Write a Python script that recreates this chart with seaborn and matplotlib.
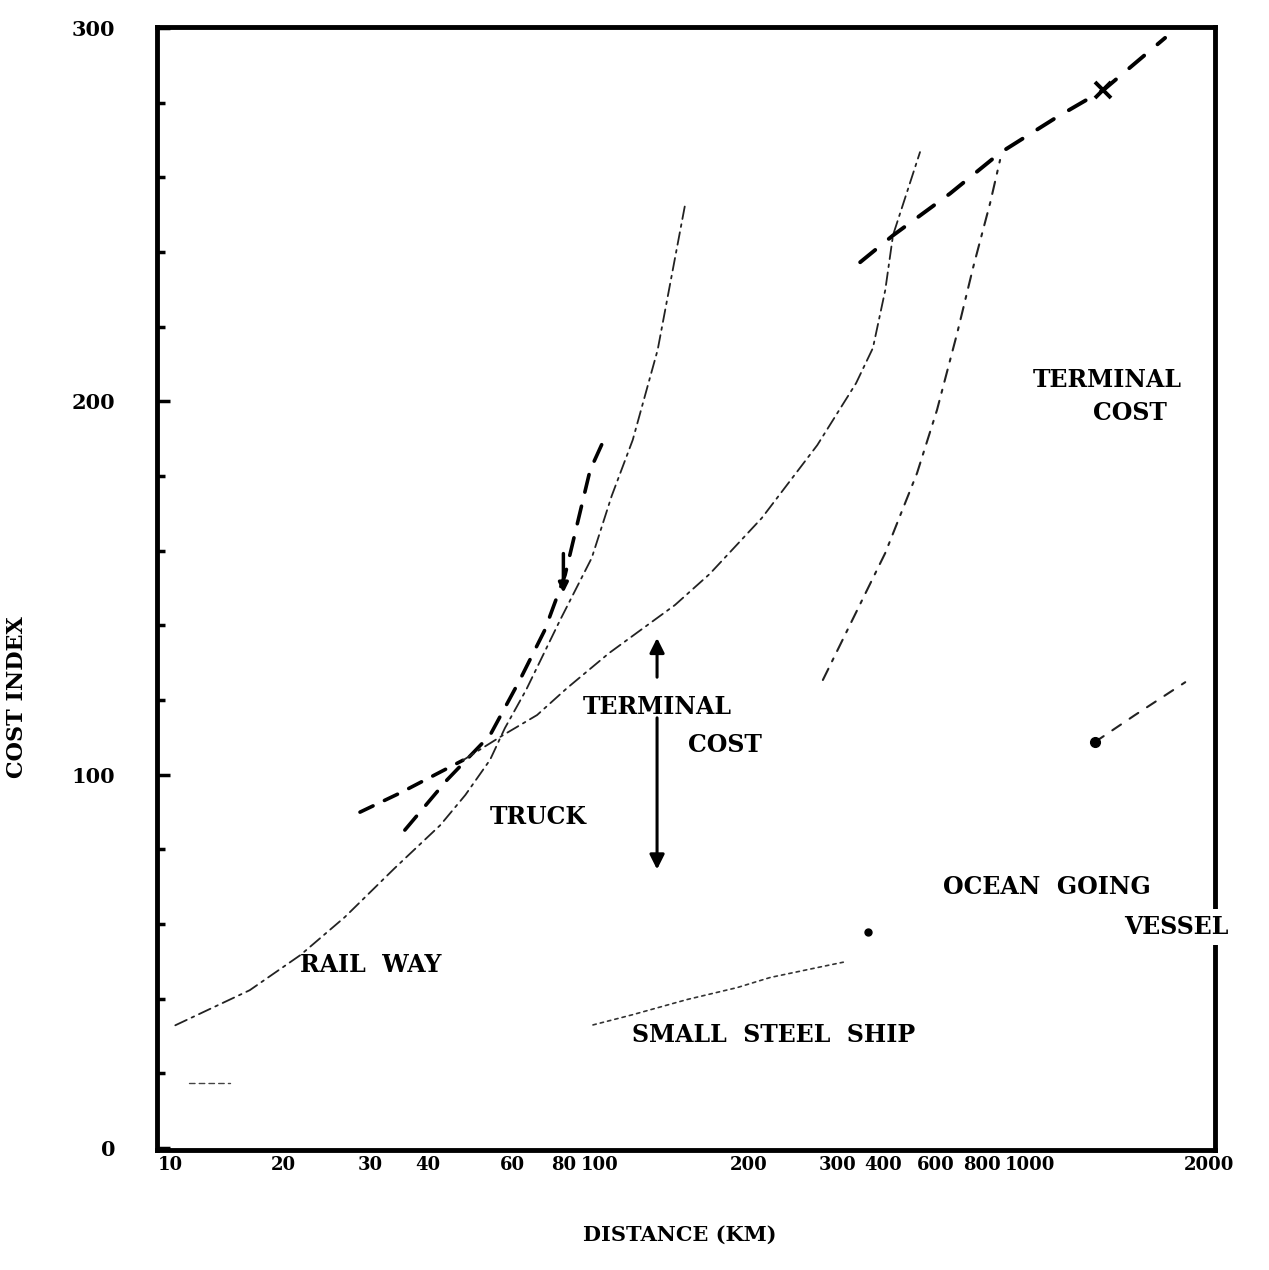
import numpy as np
import pandas as pd
import matplotlib
matplotlib.use("Agg")
import matplotlib.pyplot as plt
import matplotlib.transforms as mtrans
import seaborn as sns

# ---------------- data ----------------
rail_x = [10.5, 15.5, 20.2, 25.5, 33.1, 42.0, 47.9, 54.5, 58.9, 65.8, 78.6, 92.8, 103, 115, 131, 151]
rail_y = [32.9, 42.3, 51.7, 61.9, 75.0, 86.5, 94.6, 104.0, 112.5, 122.7, 141.4, 158.1, 174.7, 189.7, 213.8, 252.3]

truck_x = [34.9, 43.5, 54.5, 63.7, 72.6, 80.7, 92.0, 100]
truck_y = [85.2, 98.6, 110.6, 125.4, 138.8, 153.5, 181.6, 191.0]

mid_heavy_x = [27.6, 34.0, 47.3]
mid_heavy_y = [90.0, 95.1, 103.9]
mid_x = [47.3, 58.3, 69.7, 81.5, 101.6, 143.5, 172, 226, 302, 370, 404, 431, 449, 517]
mid_y = [103.9, 110.6, 116.0, 123.2, 132.6, 145.5, 153.8, 168.8, 188.3, 204.9, 214.3, 229.8, 244.6, 266.8]

right_x = [311, 431, 509, 565, 628, 683, 746, 786]
right_y = [125.4, 159.4, 180.8, 197.7, 218.3, 236.0, 253.1, 264.7]

envelope_x = [378, 449, 605, 786, 1059, 1349, 1864]
envelope_y = [237.3, 244.5, 255.7, 266.6, 276.2, 283.4, 297.4]
x_mark = (1349, 283.4)

ship_x = [93.4, 114.6, 152.8, 198.6, 236, 306, 346]
ship_y = [33.0, 35.7, 39.8, 43.0, 45.7, 48.5, 49.8]
ship_dot = (394, 57.9)

ocean_x = [1292, 1592, 2071]
ocean_y = [108.8, 116.0, 124.8]

stub_x = [11.3, 14.0]
stub_y = [17.4, 17.4]

x_ticks = [10, 20, 30, 40, 60, 80, 100, 200, 300, 400, 600, 800, 1000, 2000]
x_ticklabels = ["10", "20", "30", "40", "60", "80", "100", "200", "300", "400", "600", "800", "1000", "2000"]
y_ticks = [0, 100, 200, 300]

# hand-lettered label nudges (pixels), to match the original lettering
x_label_nudge = [4, -15, -6, -3, 4, 0, -6, 10, 22, 12, -13, -21, -16, 30]

# ---------------- figure ----------------
sns.set_theme(style="white")
plt.rcParams["font.family"] = ["DejaVu Serif"]
plt.rcParams["font.weight"] = "bold"
plt.rcParams["text.color"] = "black"
plt.rcParams["axes.labelcolor"] = "black"
plt.rcParams["xtick.color"] = "black"
plt.rcParams["ytick.color"] = "black"

fig = plt.figure(figsize=(12.69, 12.70), dpi=100)
ax = fig.add_axes([0.1237, 0.0945, 0.8338, 0.8842])
ax.set_xscale("log")


def draw(x, y, lw, dashes, color="black", alpha=1.0):
    sns.lineplot(x=x, y=y, ax=ax, color=color, lw=lw, sort=False,
                 estimator=None, alpha=alpha)
    ln = ax.lines[-1]
    ln.set_dashes(dashes)
    ln.set_solid_capstyle("round")
    ln.set_dash_capstyle("round")
    return ln


thin_dd = (7, 3, 1.5, 3)
draw(rail_x, rail_y, 1.3, thin_dd, color="#222222")
draw(truck_x, truck_y, 2.6, (5, 4))
draw(mid_heavy_x, mid_heavy_y, 2.6, (4, 3.5))
draw(mid_x, mid_y, 1.3, thin_dd, color="#222222")
draw(right_x, right_y, 1.5, (6, 4, 1.5, 4), color="#222222")
draw(envelope_x, envelope_y, 2.8, (5, 4.5))
draw(ship_x, ship_y, 1.2, (2, 2.5), color="#333333")
draw(ocean_x, ocean_y, 1.5, (5, 5), color="#222222")
draw(stub_x, stub_y, 1.0, (4, 3), color="#444444")

ax.plot([x_mark[0]], [x_mark[1]], marker="x", ms=11, mew=2.8, color="black")
ax.plot([ship_dot[0]], [ship_dot[1]], marker="o", ms=5, color="black")
ax.plot([ocean_x[0]], [ocean_y[0]], marker="o", ms=7, color="black")

# terminal-cost arrows
arrow_x = 130.6
ax.annotate("", xy=(arrow_x, 137.4), xytext=(arrow_x, 125.4),
            arrowprops=dict(arrowstyle="-|>", lw=2.2, color="black", mutation_scale=22))
ax.annotate("", xy=(arrow_x, 73.9), xytext=(arrow_x, 116.0),
            arrowprops=dict(arrowstyle="-|>", lw=2.2, color="black", mutation_scale=22))
ax.annotate("", xy=(80.0, 148.0), xytext=(80.0, 160.0),
            arrowprops=dict(arrowstyle="-|>", lw=2.5, color="black", mutation_scale=14))

# labels on the plot
fs = 17
tkw = dict(fontsize=fs, fontweight="bold", color="black", va="center", zorder=10)
ax.text(20.2, 49.0, "RAIL  WAY", ha="left", **tkw)
ax.text(54.5, 88.7, "TRUCK", ha="left", **tkw)
ax.text(88.7, 118.1, "TERMINAL", ha="left", **tkw)
ax.text(153.5, 108.0, "COST", ha="left", **tkw)
ax.text(114.6, 30.3, "SMALL  STEEL  SHIP", ha="left", **tkw)
ax.text(583, 69.9, "OCEAN  GOING", ha="left", **tkw)
bb = dict(boxstyle="square,pad=0.25", fc="white", ec="none")
ax.text(2594, 59.2, "VESSEL", ha="right", clip_on=False, bbox=bb, **tkw)
ax.text(933, 205.7, "TERMINAL", ha="left", clip_on=False, bbox=bb, **tkw)
ax.text(1279, 196.9, "COST", ha="left", clip_on=False, bbox=bb, **tkw)

# axes
ax.set_xlim(9.54, 2421)
ax.set_ylim(-0.5, 300.3)
ax.set_xticks(x_ticks)
ax.set_xticklabels(x_ticklabels)
ax.xaxis.set_minor_locator(matplotlib.ticker.NullLocator())
ax.set_yticks(y_ticks)
ax.set_yticks([v for v in range(20, 300, 20) if v % 100 != 0], minor=True)
ax.tick_params(axis="x", which="both", length=0, pad=4, labelsize=13, labelcolor="black")
ax.tick_params(axis="y", which="major", direction="in", length=9, width=2.5,
               pad=30, labelsize=15, left=True, labelcolor="black")
ax.tick_params(axis="y", which="minor", direction="in", length=6, width=2.5, left=True)
for lab in ax.get_xticklabels() + ax.get_yticklabels():
    lab.set_fontweight("bold")
for lab, dx in zip(ax.get_xticklabels(), x_label_nudge):
    lab.set_transform(lab.get_transform() +
                      mtrans.ScaledTranslation(dx / 100.0, 0, fig.dpi_scale_trans))

for s in ax.spines.values():
    s.set_visible(True)
    s.set_color("black")
    s.set_linewidth(3.5)
    s.set_zorder(2.5)

ax.set_xlabel("DISTANCE (KM)", fontsize=15, fontweight="bold", color="black")
ax.set_ylabel("COST INDEX", fontsize=16, fontweight="bold", color="black")
ax.xaxis.set_label_coords(0.494, -0.067)
ax.yaxis.set_label_coords(-0.122, 0.403)
ax.grid(False)

fig.savefig("out.png", dpi=100, facecolor="white")
